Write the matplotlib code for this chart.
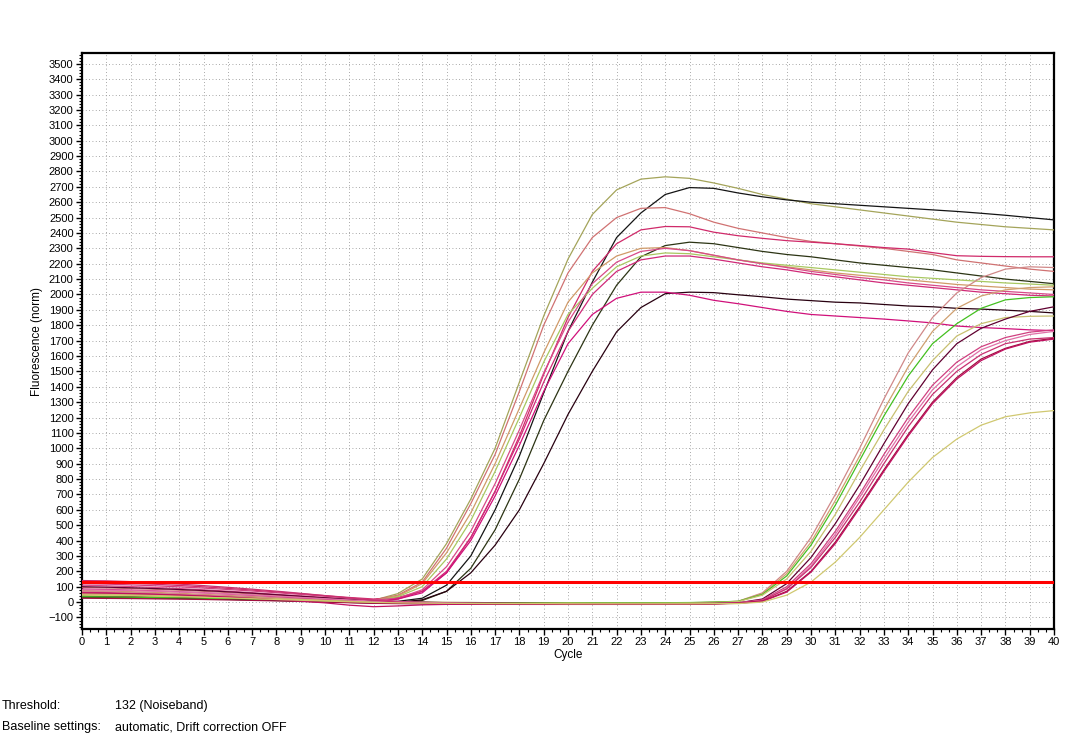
import numpy as np
import matplotlib
matplotlib.use("Agg")
import matplotlib.pyplot as plt
from matplotlib.ticker import MultipleLocator

plt.rcParams['font.family'] = ['Liberation Sans', 'DejaVu Sans']

cycles = list(range(0, 41))
threshold = 132

# Early-amplifying curves (cycles 0..40)
early_olive = [60,56,52,47,42,36,30,24,17,11,6,4,12,
               55,150,380,670,1000,1430,1860,2230,2520,2680,2750,2765,2755,2725,2690,2650,2620,2590,2570,2550,2530,2510,2490,2470,2455,2440,2430,2420]
early_black = [35,33,31,29,27,24,21,17,13,9,5,2,0,
               5,25,110,300,600,950,1360,1760,2080,2370,2530,2650,2695,2690,2660,2635,2615,2600,2590,2580,2570,2560,2550,2540,2528,2515,2500,2485]
early_salmon = [95,92,88,83,77,70,62,53,44,35,26,18,14,
                45,130,350,640,960,1370,1800,2140,2370,2500,2560,2565,2525,2470,2430,2400,2370,2345,2330,2315,2300,2280,2260,2225,2205,2185,2165,2150]
early_pink = [130,127,122,116,108,99,89,78,66,54,42,30,20,
              30,70,190,420,720,1080,1480,1850,2150,2330,2420,2442,2440,2405,2382,2365,2350,2340,2330,2318,2305,2295,2272,2252,2248,2246,2245,2245]
early_darkolive = [30,29,28,26,24,21,18,14,10,6,2,-2,-4,
                   -2,10,70,220,470,800,1180,1500,1800,2060,2245,2318,2340,2330,2305,2280,2260,2245,2225,2205,2190,2175,2160,2140,2120,2100,2085,2070]
early_tan = [75,72,68,63,57,50,43,36,28,21,14,9,12,
             40,120,320,580,900,1260,1620,1950,2140,2250,2300,2305,2285,2255,2225,2200,2180,2160,2140,2125,2110,2095,2080,2065,2055,2045,2035,2030]
early_lightgreen = [45,44,42,40,37,33,29,24,19,14,9,5,8,
                    35,100,280,530,850,1200,1560,1870,2040,2180,2250,2270,2265,2245,2225,2205,2190,2175,2160,2145,2130,2115,2105,2095,2085,2075,2068,2060]
early_rose = [110,106,101,95,88,80,71,61,50,40,30,20,14,
              25,80,230,460,770,1120,1490,1820,2070,2210,2280,2300,2285,2255,2225,2200,2175,2150,2130,2110,2095,2075,2060,2045,2030,2020,2010,2000]
early_magenta = [85,82,78,73,67,60,52,44,35,26,18,10,6,
                 20,70,200,420,720,1060,1430,1760,2000,2150,2225,2250,2250,2230,2205,2180,2160,2135,2115,2095,2075,2060,2045,2030,2015,2005,1995,1990]
early_maroon = [40,38,36,33,30,26,22,17,12,7,2,-2,-5,
                -2,15,70,190,370,600,900,1220,1500,1757,1915,2005,2015,2012,1998,1985,1970,1960,1950,1945,1935,1925,1920,1910,1905,1898,1890,1880]
early_crimson = [65,62,58,54,49,43,37,30,22,14,6,-2,-4,
                 20,60,190,400,690,1020,1370,1680,1870,1975,2015,2015,1995,1962,1940,1915,1890,1870,1860,1850,1840,1828,1815,1795,1785,1778,1770,1765]

# Late-amplifying curves (cycles 0..40)
late_salmon = [70,67,63,58,52,46,40,33,26,19,12,6,2,0,-2,-3,-4,-5,-5,-6,-6,-7,-7,-7,-6,-5,-2,5,
               60,200,420,700,1000,1320,1620,1850,2010,2110,2165,2180,2175]
late_tan = [50,48,45,42,38,34,29,24,19,14,9,5,2,0,-1,-2,-3,-4,-4,-5,-5,-5,-6,-6,-5,-4,-1,5,
            55,185,390,660,950,1250,1530,1760,1910,1990,2030,2045,2050]
late_green = [35,34,32,30,28,25,22,19,15,11,7,4,1,-1,-2,-3,-3,-4,-4,-4,-5,-5,-5,-5,-4,-3,0,5,
              50,170,370,630,920,1210,1470,1680,1810,1910,1965,1980,1985]
late_khaki = [55,53,50,46,42,37,32,27,21,15,10,5,1,-2,-4,-5,-6,-6,-7,-7,-7,-8,-8,-8,-7,-6,-3,3,
              45,150,330,570,850,1120,1370,1570,1730,1810,1850,1858,1860]
late_maroon = [100,97,93,88,82,75,67,58,48,38,28,18,9,3,-1,-4,-6,-7,-8,-9,-10,-10,-11,-11,-11,-10,-8,-5,
               20,120,290,510,760,1030,1290,1510,1680,1780,1840,1890,1920]
late_pink1 = [120,117,112,106,99,91,82,72,61,50,38,26,14,5,-2,-6,-8,-9,-10,-11,-12,-12,-13,-13,-13,-12,-10,-5,
              15,100,250,460,700,960,1200,1410,1560,1660,1720,1755,1770]
late_pink2 = [80,78,75,71,66,60,53,46,38,30,22,14,6,0,-4,-7,-9,-10,-11,-12,-12,-13,-13,-14,-14,-13,-11,-6,
              10,90,235,440,680,930,1170,1380,1530,1640,1700,1740,1760]
late_pink3 = [140,138,133,126,117,107,96,84,71,57,42,27,12,0,-8,-12,-14,-15,-15,-15,-15,-15,-15,-15,-14,-13,-11,-6,
              10,85,225,420,650,900,1140,1350,1500,1610,1680,1710,1720]
late_red1 = [25,24,23,21,19,17,14,11,8,4,0,-4,-8,-10,-12,-13,-14,-14,-15,-15,-15,-15,-15,-15,-15,-14,-12,-8,
             5,70,200,390,620,860,1090,1300,1460,1580,1650,1695,1715]
late_red2 = [60,58,55,51,46,40,33,25,16,6,-5,-20,-30,-25,-18,-15,-14,-14,-14,-14,-14,-14,-14,-14,-14,-13,-11,-7,
             5,65,195,380,610,850,1080,1290,1450,1570,1645,1690,1710]
late_yellow = [45,43,41,38,35,31,27,22,17,12,7,2,-2,-5,-7,-8,-9,-10,-10,-10,-11,-11,-11,-11,-11,-11,-10,-10,
               0,45,130,260,420,600,780,940,1060,1150,1205,1230,1245]

series = [
    (early_olive, '#a4a45a'), (early_black, '#141414'), (early_salmon, '#d07272'),
    (early_pink, '#d02a6a'), (early_darkolive, '#2c3414'), (early_tan, '#d09a68'),
    (early_lightgreen, '#a8c860'), (early_rose, '#d84a88'), (early_magenta, '#d02a78'),
    (early_maroon, '#280010'), (early_crimson, '#d0107a'),
    (late_salmon, '#d08888'), (late_tan, '#d0a070'), (late_green, '#44c020'),
    (late_khaki, '#c8c070'), (late_maroon, '#600030'), (late_pink1, '#d04080'),
    (late_pink2, '#e070a8'), (late_pink3, '#c83070'), (late_red1, '#a01040'),
    (late_red2, '#c01060'), (late_yellow, '#d0c870'),
]

fig = plt.figure(figsize=(10.9, 7.45), dpi=100)
ax = fig.add_axes([82/1090, 1-629/745, (1054-82)/1090, (629-53)/745])

for vals, col in series:
    ax.plot(cycles, vals, color=col, lw=0.9, zorder=3)

ax.axhline(threshold, color='#ff0000', lw=2.2, zorder=5)

ax.set_xlim(0, 40)
ax.set_ylim(-175, 3570)
ax.xaxis.set_major_locator(MultipleLocator(1))
ax.xaxis.set_minor_locator(MultipleLocator(1/3))
ax.set_yticks(list(range(-100, 3501, 100)))
ax.yaxis.set_minor_locator(MultipleLocator(20))
ax.tick_params(axis='both', which='major', length=4, width=1, labelsize=8, pad=2, direction='out')
ax.tick_params(axis='both', which='minor', length=2, width=0.8, direction='out')
ax.grid(which='major', color='#8c8c8c', linestyle=(0, (1, 3)), lw=0.6, zorder=0)
for s in ax.spines.values():
    s.set_linewidth(1.6)
    s.set_color('black')

ax.set_xlabel('Cycle', fontsize=8.5, labelpad=1)
ax.set_ylabel('Fluorescence (norm)', fontsize=8.5, labelpad=4)

fig.text(2/1090, 1-706/745, 'Threshold:', fontsize=9, va='center')
fig.text(115/1090, 1-706/745, '132 (Noiseband)', fontsize=9, va='center')
fig.text(2/1090, 1-727/745, 'Baseline settings:', fontsize=9, va='center')
fig.text(115/1090, 1-727/745, 'automatic, Drift correction OFF', fontsize=9, va='center')

fig.savefig('out.png', dpi=100)
